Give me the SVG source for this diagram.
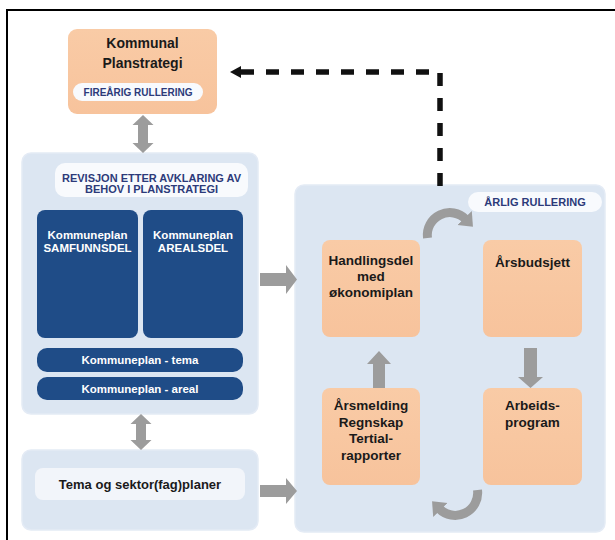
<svg xmlns="http://www.w3.org/2000/svg" width="615" height="540" viewBox="0 0 615 540">
  <defs>
    <style>
      .frame { stroke: #000; stroke-width: 2; fill: none; }
      .panel { fill: #DCE6F2; stroke: #E4EBF5; stroke-width: 1.5; }
      .pill { fill: #F8FAFD; }
      .orange { fill: url(#orangeGrad); }
      .navy { fill: #1F4C87; }
      .garrow { fill: #9C9C9C; }
      .arc { fill: none; stroke: #9C9C9C; stroke-width: 9; }
      .dash { fill: none; stroke: #111; stroke-width: 5.5; stroke-dasharray: 13 12; }
      text { font-family: "Liberation Sans", Arial, sans-serif; font-weight: bold; text-anchor: middle; }
      .t-dark { fill: #1A1A1A; font-size: 13.5px; }
      .t-title { fill: #1A1A1A; font-size: 14px; }
      .t-sector { fill: #1A1A1A; font-size: 13px; }
      .t-label { fill: #2C3A7A; font-size: 11px; }
      .t-small { fill: #2C3A7A; font-size: 10px; }
      .t-white { fill: #FFFFFF; font-size: 11.5px; }
      .t-bar { fill: #FFFFFF; font-size: 11.5px; }
    </style>
    <linearGradient id="orangeGrad" x1="0" y1="0" x2="0" y2="1">
      <stop offset="0" stop-color="#F9CBA6"/>
      <stop offset="1" stop-color="#F7C39C"/>
    </linearGradient>
    <marker id="arcHead" markerUnits="userSpaceOnUse" markerWidth="24" markerHeight="24" refX="2" refY="12" orient="auto">
      <polygon points="0,2 12,12 0,22" fill="#9C9C9C"/>
    </marker>
  </defs>

  <!-- frame (top and left edges only) -->
  <path class="frame" d="M7,540 V10 H615"/>

  <!-- strategy node -->
  <g id="planstrategi">
    <rect class="orange" x="68" y="29" width="149" height="85" rx="9"/>
    <text class="t-title" x="142.5" y="48">Kommunal</text>
    <text class="t-title" x="142.5" y="68">Planstrategi</text>
    <rect class="pill" x="73" y="83" width="130" height="18" rx="9"/>
    <text class="t-small" x="138" y="95.5">FIREÅRIG RULLERING</text>
  </g>

  <!-- municipal plan panel -->
  <g id="kommuneplan">
    <rect class="panel" x="22" y="153" width="236" height="261" rx="9"/>
    <rect class="pill" x="55" y="163" width="193" height="34" rx="10"/>
    <text class="t-label" x="151.5" y="182">REVISJON ETTER AVKLARING AV</text>
    <text class="t-label" x="151.5" y="193">BEHOV I PLANSTRATEGI</text>
  </g>
  <g id="samfunnsdel">
    <rect class="navy" x="37" y="210" width="101" height="128" rx="8"/>
    <text class="t-white" x="87.5" y="238.5">Kommuneplan</text>
    <text class="t-white" x="87.5" y="251.5">SAMFUNNSDEL</text>
  </g>
  <g id="arealsdel">
    <rect class="navy" x="143" y="210" width="100" height="128" rx="8"/>
    <text class="t-white" x="193" y="238.5">Kommuneplan</text>
    <text class="t-white" x="193" y="251.5">AREALSDEL</text>
  </g>
  <g id="tema">
    <rect class="navy" x="37" y="348" width="206" height="24" rx="10"/>
    <text class="t-bar" x="140" y="364">Kommuneplan - tema</text>
  </g>
  <g id="areal">
    <rect class="navy" x="37" y="377" width="206" height="23" rx="10"/>
    <text class="t-bar" x="140" y="393">Kommuneplan - areal</text>
  </g>

  <!-- sector plans panel -->
  <g id="sektorplaner">
    <rect class="panel" x="22" y="450" width="236" height="80" rx="9"/>
    <rect x="35" y="468" width="210" height="32" rx="8" fill="#F2F5FA"/>
    <text class="t-sector" x="140" y="489">Tema og sektor(fag)planer</text>
  </g>

  <!-- annual cycle panel -->
  <g id="arlig">
    <rect class="panel" x="295" y="185" width="310" height="347" rx="9"/>
    <rect class="pill" x="468" y="192" width="134" height="20" rx="10"/>
    <text class="t-label" x="535" y="206">ÅRLIG RULLERING</text>
  </g>
  <g id="handlingsdel">
    <rect class="orange" x="322" y="240" width="98" height="97" rx="8"/>
    <text class="t-dark" x="371" y="265">Handlingsdel</text>
    <text class="t-dark" x="371" y="281">med</text>
    <text class="t-dark" x="371" y="297">økonomiplan</text>
  </g>
  <g id="arsbudsjett">
    <rect class="orange" x="483" y="240" width="99" height="97" rx="8"/>
    <text class="t-dark" x="532.5" y="267">Årsbudsjett</text>
  </g>
  <g id="arbeidsprogram">
    <rect class="orange" x="483" y="388" width="99" height="97" rx="8"/>
    <text class="t-dark" x="532.5" y="410">Arbeids-</text>
    <text class="t-dark" x="532.5" y="427">program</text>
  </g>
  <g id="arsmelding">
    <rect class="orange" x="322" y="388" width="98" height="97" rx="8"/>
    <text class="t-dark" x="371" y="410">Årsmelding</text>
    <text class="t-dark" x="371" y="426.5">Regnskap</text>
    <text class="t-dark" x="371" y="443">Tertial-</text>
    <text class="t-dark" x="371" y="459.5">rapporter</text>
  </g>

  <!-- connectors -->
  <g id="connectors">
    <!-- strategy <-> municipal plan -->
    <polygon class="garrow" points="143,115 153.5,125 148,125 148,143 153.5,143 143,153 132.5,143 138,143 138,125 132.5,125"/>
    <!-- municipal plan <-> sector plans -->
    <polygon class="garrow" points="141,414 151.5,424 146,424 146,440 151.5,440 141,450 130.5,440 136,440 136,424 130.5,424"/>
    <!-- panels -> annual cycle -->
    <polygon class="garrow" points="260,273 286,273 286,265 297,279.5 286,294 286,286 260,286"/>
    <polygon class="garrow" points="260,485 286,485 286,478 297,491 286,504 286,497 260,497"/>
    <!-- cycle arrows -->
    <path class="arc" d="M427.5,238 A22.5,22.5 0 0 1 466,219.5" marker-end="url(#arcHead)"/>
    <polygon class="garrow" points="524,348 537,348 537,377 543,377 530.5,388 518,377 524,377"/>
    <path class="arc" d="M477.5,490 A22.5,22.5 0 0 1 439,508.5" marker-end="url(#arcHead)"/>
    <polygon class="garrow" points="379,351 391,364 385,364 385,388 373,388 373,364 367,364"/>
    <!-- annual report back to strategy -->
    <path class="dash" d="M440,186 V72 H241"/>
    <polygon points="230,72 241,66 241,78" fill="#111"/>
  </g>
</svg>
